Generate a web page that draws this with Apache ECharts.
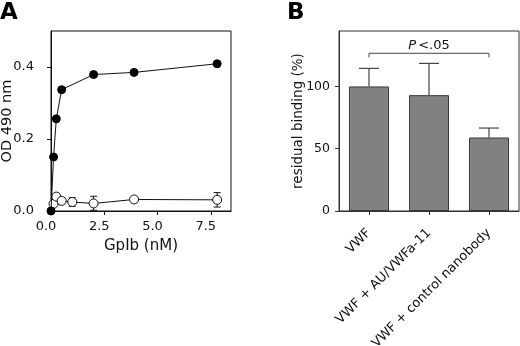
<!DOCTYPE html>
<html>
<head>
<meta charset="utf-8">
<script src="https://cdn.jsdelivr.net/npm/echarts@6/dist/echarts.min.js"></script>
<style>
  html, body { margin: 0; padding: 0; background: #fff; }
  #chart { width: 520px; height: 346px; }
</style>
</head>
<body>
<div id="chart"></div>
<script>
// panel A: GpIb titration
const gpibFilled = [[0, 0], [0.12, 0.15], [0.25, 0.256], [0.5, 0.337], [2.0, 0.379], [3.9, 0.385], [7.8, 0.409]];
const gpibOpen = [[0.12, 0.02], [0.25, 0.04], [0.5, 0.028], [1.0, 0.025], [2.0, 0.021], [3.9, 0.032], [7.8, 0.031]];
// [x, low, high]
const gpibOpenErr = [[0.5, 0.02, 0.036], [1.0, 0.013, 0.037], [2.0, 0.002, 0.041], [7.8, 0.011, 0.051]];

// panel B: residual binding
const bindingCats = ['VWF', 'VWF + AU/VWFa-11', 'VWF + control nanobody'];
const bindingVals = [100, 93, 59];
const bindingErrTop = [114.5, 118.5, 66.6];
const sigBracket = [[0, 2, 126.6]];

const font = 'DejaVu Sans';
const ink = '#111';

const chart = echarts.init(document.getElementById('chart'));

function errBarA(params, api) {
  const top = api.coord([api.value(0), api.value(2)]);
  const bot = api.coord([api.value(0), api.value(1)]);
  const w = 3.5;
  const st = { stroke: ink, lineWidth: 1 };
  return {
    type: 'group',
    children: [
      { type: 'line', shape: { x1: top[0], y1: top[1], x2: bot[0], y2: bot[1] }, style: st },
      { type: 'line', shape: { x1: top[0] - w, y1: top[1], x2: top[0] + w, y2: top[1] }, style: st },
      { type: 'line', shape: { x1: bot[0] - w, y1: bot[1], x2: bot[0] + w, y2: bot[1] }, style: st }
    ]
  };
}

function errBarB(params, api) {
  const top = api.coord([api.value(0), api.value(1)]);
  const base = api.coord([api.value(0), api.value(2)]);
  const w = 10;
  const st = { stroke: '#444', lineWidth: 1.2 };
  return {
    type: 'group',
    children: [
      { type: 'line', shape: { x1: top[0], y1: top[1], x2: base[0], y2: base[1] }, style: st },
      { type: 'line', shape: { x1: top[0] - w, y1: top[1], x2: top[0] + w, y2: top[1] }, style: st }
    ]
  };
}

function bracket(params, api) {
  const a = api.coord([api.value(0), api.value(2)]);
  const b = api.coord([api.value(1), api.value(2)]);
  return {
    type: 'group',
    children: [
      { type: 'polyline', shape: { points: [[a[0], a[1] + 4], a, b, [b[0], b[1] + 4]] }, style: { stroke: '#444', lineWidth: 1, fill: null } },
      {
        type: 'text',
        x: (a[0] + b[0]) / 2, y: a[1] - 1,
        style: {
          text: '{i|P}{n|<.05}',
          align: 'center', verticalAlign: 'bottom',
          rich: {
            i: { fontFamily: font, fontSize: 13, fontStyle: 'italic', fill: ink },
            n: { fontFamily: font, fontSize: 13, fill: ink, padding: [0, 0, 0, 2] }
          }
        }
      }
    ]
  };
}

const lbl = { color: ink, fontFamily: font, fontSize: 13 };
const nameStyle = { color: ink, fontFamily: font, fontSize: 14.5 };
const panelTitle = { fontFamily: font, fontWeight: 'bold', fontSize: 23, color: '#000' };

chart.setOption({
  animation: false,
  backgroundColor: '#fff',
  title: [
    { text: 'A', left: 0, top: 2, padding: 0, textStyle: panelTitle },
    { text: 'B', left: 287, top: 2, padding: 0, textStyle: panelTitle }
  ],
  grid: [
    { left: 51, top: 31, width: 180, height: 180, show: true, borderColor: ink, borderWidth: 1, containLabel: false, outerBoundsMode: 'none' },
    { left: 339, top: 31, width: 180, height: 180, show: true, borderColor: '#333', borderWidth: 1, containLabel: false, outerBoundsMode: 'none' }
  ],
  xAxis: [
    {
      gridIndex: 0, type: 'value', min: 0, max: 8.45, interval: 2.5,
      name: 'GpIb (nM)', nameLocation: 'middle', nameGap: 28, nameMoveOverlap: false,
      nameTextStyle: Object.assign({}, nameStyle, { fontSize: 15 }),
      axisLine: { show: true, onZero: false, lineStyle: { color: ink } },
      axisTick: { show: true, length: 4, lineStyle: { color: ink } },
      splitLine: { show: false },
      axisLabel: Object.assign({}, lbl, { showMaxLabel: false, margin: 9, padding: [0, 10, 0, 0], formatter: v => v.toFixed(1) })
    },
    {
      gridIndex: 1, type: 'category', data: bindingCats,
      axisLine: { show: true, lineStyle: { color: '#333' } },
      axisTick: { show: true, alignWithLabel: true, length: 4, lineStyle: { color: '#333' } },
      axisLabel: Object.assign({}, lbl, { rotate: 45, interval: 0, margin: 20 })
    }
  ],
  yAxis: [
    {
      gridIndex: 0, type: 'value', min: 0, max: 0.5, interval: 0.2,
      name: 'OD 490 nm', nameLocation: 'middle', nameGap: 36, nameRotate: 90, nameMoveOverlap: false,
      nameTextStyle: nameStyle,
      axisLine: { show: true, onZero: false, lineStyle: { color: ink } },
      axisTick: { show: true, length: 4, lineStyle: { color: ink } },
      splitLine: { show: false },
      axisLabel: Object.assign({}, lbl, { showMaxLabel: false, margin: 17, formatter: v => v.toFixed(1) })
    },
    {
      gridIndex: 1, type: 'value', min: 0, max: 144.5, interval: 50,
      name: 'residual binding (%)', nameLocation: 'middle', nameGap: 34, nameRotate: 90, nameMoveOverlap: false,
      nameTextStyle: Object.assign({}, nameStyle, { fontSize: 13.5 }),
      axisLine: { show: true, lineStyle: { color: '#333' } },
      axisTick: { show: true, length: 4, lineStyle: { color: '#333' } },
      splitLine: { show: false },
      axisLabel: Object.assign({}, lbl, { fontSize: 12.5, showMaxLabel: false, margin: 9 })
    }
  ],
  series: [
    {
      type: 'line', xAxisIndex: 0, yAxisIndex: 0, data: gpibOpen,
      symbol: 'circle', symbolSize: 9,
      lineStyle: { color: ink, width: 1 },
      itemStyle: { color: '#fff', borderColor: ink, borderWidth: 1 }, z: 3
    },
    {
      type: 'custom', xAxisIndex: 0, yAxisIndex: 0, data: gpibOpenErr,
      renderItem: errBarA, z: 2
    },
    {
      type: 'line', xAxisIndex: 0, yAxisIndex: 0, data: gpibFilled,
      symbol: 'circle', symbolSize: 8,
      lineStyle: { color: ink, width: 1 },
      itemStyle: { color: '#000', borderColor: '#000' }, z: 4
    },
    {
      type: 'bar', xAxisIndex: 1, yAxisIndex: 1, data: bindingVals, barWidth: 40,
      itemStyle: { color: '#818181', borderColor: '#3a3a3a', borderWidth: 1 }
    },
    {
      type: 'custom', xAxisIndex: 1, yAxisIndex: 1,
      data: bindingErrTop.map((v, i) => [i, v, bindingVals[i]]),
      renderItem: errBarB, z: 1
    },
    {
      type: 'custom', xAxisIndex: 1, yAxisIndex: 1, data: sigBracket,
      renderItem: bracket, z: 5
    }
  ]
});
</script>
</body>
</html>
